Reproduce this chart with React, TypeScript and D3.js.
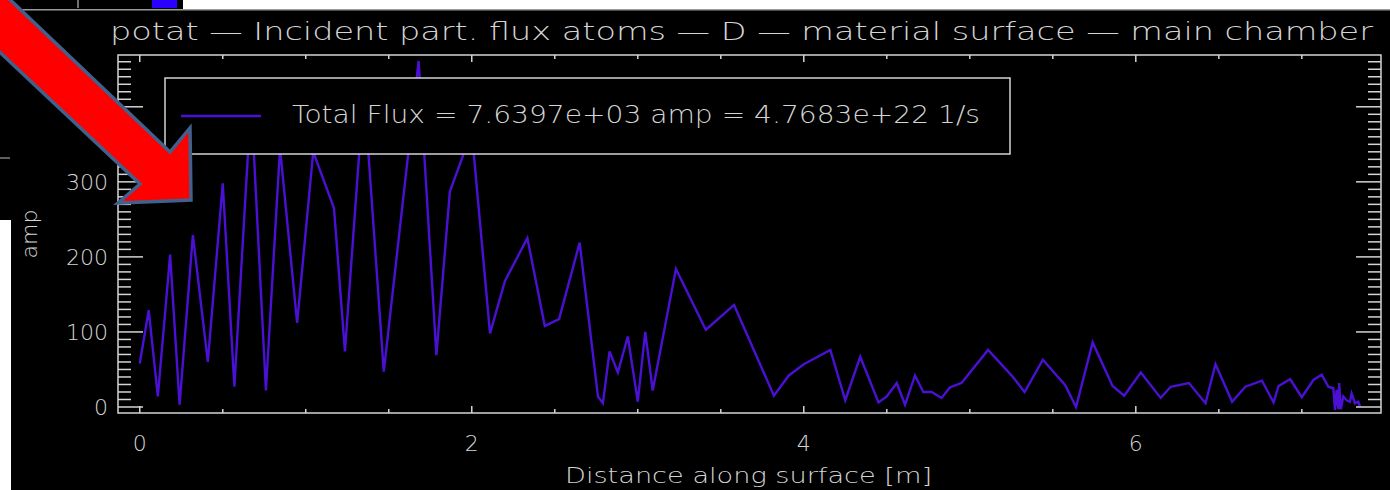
import React, { useRef, useEffect } from 'react';
import * as d3 from 'd3';

// distance along surface [m] and amp
const distance = [
  0.0, 0.054, 0.109, 0.183, 0.24, 0.32, 0.41, 0.5, 0.57, 0.671, 0.76, 0.845, 0.948, 1.045,
  1.17, 1.236, 1.35, 1.47, 1.68, 1.787, 1.868, 2.0, 2.11, 2.2, 2.335, 2.44, 2.526, 2.65,
  2.76, 2.79, 2.83, 2.88, 2.94, 3.0, 3.045, 3.09, 3.23, 3.41, 3.58, 3.82, 3.91, 4.0, 4.16,
  4.25, 4.34, 4.45, 4.5, 4.56, 4.61, 4.67, 4.72, 4.77, 4.83, 4.88, 4.95, 5.11, 5.26, 5.33,
  5.44, 5.575, 5.64, 5.74, 5.86, 5.93, 6.03, 6.15, 6.21, 6.32, 6.42, 6.48, 6.58, 6.66,
  6.76, 6.83, 6.86, 6.93, 7.0, 7.07, 7.12, 7.16, 7.19, 7.2, 7.21, 7.22, 7.225, 7.235,
  7.25, 7.27, 7.29, 7.3, 7.32, 7.34, 7.35,
];
const amp = [
  58, 129, 14, 203, 3, 229, 60, 298, 27, 410, 22, 345, 112, 340,
  265, 74, 424, 47, 461, 69, 287, 367, 98, 168, 225, 108, 117, 219,
  14, 5, 74, 46, 94, 7, 100, 22, 184, 103, 136, 15, 42, 57, 76,
  9, 67, 6, 14, 32, 3, 42, 20, 20, 12, 26, 32, 76, 40, 20,
  63, 29, 0, 86, 28, 15, 46, 12, 27, 32, 5, 57, 7, 27,
  35, 6, 28, 37, 13, 36, 43, 27, 25, -4, 23, -3, 32, -3,
  14, 9, 7, 18, 5, 7, 1,
];

const xMajorTicks = [0, 2, 4, 6];
const yMajorTicks = [0, 100, 200, 300, 400];

const title = 'potat \u2014 Incident part. flux atoms \u2014 D \u2014 material surface \u2014 main chamber';
const legendLabel = 'Total Flux = 7.6397e+03 amp = 4.7683e+22 1/s';
const xTitle = 'Distance along surface [m]';
const yTitle = 'amp';

// red arrow pasted over the screenshot
const arrowShape: [number, number][] = [
  [-60, -67], [170, 152], [190, 128], [191, 200], [118, 203], [140, 184], [-60, -4],
];

const W = 1390;
const H = 490;
const FG = '#d4d4d4';
const LINE = '#4a10d4';
const FONT = "'DejaVu Sans', sans-serif";

const App = () => {
  const ref = useRef<SVGSVGElement>(null);

  useEffect(() => {
    const svg = d3.select(ref.current);
    svg.selectAll('*').remove();

    const box = { left: 118, right: 1381, top: 55, bottom: 413 };

    const x = d3.scaleLinear().domain([-0.131, 7.477]).range([box.left, box.right]);
    const y = d3.scaleLinear().domain([-8, 469]).range([box.bottom, box.top]);

    svg.append('rect').attr('width', W).attr('height', H).attr('fill', '#000');

    // bits of the surrounding window
    svg.append('rect').attr('x', 183).attr('y', 0).attr('width', W - 183).attr('height', 9).attr('fill', '#fff');
    svg.append('rect').attr('x', 152).attr('y', 0).attr('width', 25).attr('height', 8).attr('fill', '#2a00ff');
    svg.append('line').attr('x1', 78).attr('x2', 78).attr('y1', 0).attr('y2', 8).attr('stroke', '#ddd');
    svg.append('line').attr('x1', 0).attr('x2', W).attr('y1', 9.8).attr('y2', 9.8)
      .attr('stroke', '#9a9a9a').attr('stroke-width', 1.5);
    svg.append('rect').attr('x', 0).attr('y', 220).attr('width', 11).attr('height', H - 220).attr('fill', '#fff');
    svg.append('line').attr('x1', 0).attr('x2', 10).attr('y1', 158).attr('y2', 158).attr('stroke', '#bbb');

    // title
    svg.append('text')
      .attr('x', 110).attr('y', 40)
      .attr('textLength', 1263).attr('lengthAdjust', 'spacingAndGlyphs')
      .attr('font-family', FONT).attr('font-weight', 200).attr('font-size', 24)
      .attr('fill', FG).text(title);

    // data
    const pts = distance.map((d, i) => [d, amp[i]] as [number, number]);
    const line = d3.line<[number, number]>().x((d) => x(d[0])).y((d) => y(d[1]));
    svg.append('path').datum(pts).attr('d', line)
      .attr('fill', 'none').attr('stroke', LINE).attr('stroke-width', 2.4)
      .attr('stroke-linejoin', 'miter');

    // frame
    const axes = svg.append('g').attr('stroke', FG).attr('stroke-width', 1.5).attr('fill', 'none');
    axes.append('rect')
      .attr('x', box.left).attr('y', box.top)
      .attr('width', box.right - box.left).attr('height', box.bottom - box.top);

    const xMinor = d3.range(0, 7.5, 0.5);
    xMinor.forEach((t) => {
      const len = xMajorTicks.includes(t) ? 7 : 4;
      axes.append('line').attr('x1', x(t)).attr('x2', x(t)).attr('y1', box.bottom).attr('y2', box.bottom - len);
      axes.append('line').attr('x1', x(t)).attr('x2', x(t)).attr('y1', box.top).attr('y2', box.top + len);
    });

    const yMinor = d3.range(0, 470, 10);
    yMinor.forEach((t) => {
      const len = t % 100 === 0 ? 25 : 13;
      axes.append('line').attr('x1', box.left).attr('x2', box.left + len).attr('y1', y(t)).attr('y2', y(t));
      axes.append('line').attr('x1', box.right).attr('x2', box.right - len).attr('y1', y(t)).attr('y2', y(t));
    });

    const labels = svg.append('g')
      .attr('font-family', FONT).attr('font-weight', 200).attr('font-size', 22).attr('fill', FG);

    labels.selectAll('.yt').data(yMajorTicks).join('text')
      .attr('x', 108).attr('y', (d) => y(d) + 8)
      .attr('text-anchor', 'end').text((d) => d);

    labels.selectAll('.xt').data(xMajorTicks).join('text')
      .attr('x', (d) => x(d)).attr('y', 451)
      .attr('text-anchor', 'middle').text((d) => d);

    labels.append('text')
      .attr('x', 565).attr('y', 483)
      .attr('textLength', 367).attr('lengthAdjust', 'spacingAndGlyphs')
      .text(xTitle);

    labels.append('text')
      .attr('transform', 'translate(37,234) rotate(-90)')
      .attr('text-anchor', 'middle')
      .text(yTitle);

    // legend
    const legend = svg.append('g');
    legend.append('rect')
      .attr('x', 165).attr('y', 78).attr('width', 845).attr('height', 76)
      .attr('fill', '#000').attr('stroke', FG).attr('stroke-width', 1.5);
    legend.append('line')
      .attr('x1', 181).attr('x2', 261).attr('y1', 116).attr('y2', 116)
      .attr('stroke', LINE).attr('stroke-width', 2.4);
    legend.append('text')
      .attr('x', 292).attr('y', 123)
      .attr('textLength', 688).attr('lengthAdjust', 'spacingAndGlyphs')
      .attr('font-family', FONT).attr('font-weight', 200).attr('font-size', 24)
      .attr('fill', FG).text(legendLabel);

    // annotation arrow
    svg.append('polygon')
      .attr('points', arrowShape.map((p) => p.join(',')).join(' '))
      .attr('fill', '#ff0000').attr('stroke', '#41608c').attr('stroke-width', 3.5)
      .attr('stroke-linejoin', 'miter');
  }, []);

  return (
    <svg
      ref={ref}
      width={W}
      height={H}
      style={{ position: 'absolute', left: 0, top: 0, display: 'block' }}
    />
  );
};

export default App;
